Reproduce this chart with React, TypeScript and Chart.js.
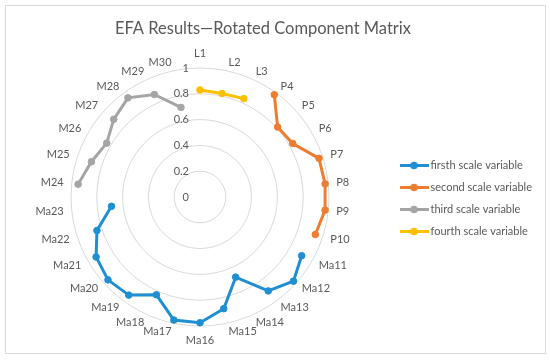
import React, { useEffect, useRef } from "react";
import { Chart, registerables } from "chart.js";

Chart.register(...registerables);

const titleText = "EFA Results\u2014Rotated Component Matrix";

const categories = [
  "L1", "L2", "L3", "P4", "P5", "P6", "P7", "P8", "P9", "P10",
  "Ma11", "Ma12", "Ma13", "Ma14", "Ma15", "Ma16", "Ma17", "Ma18", "Ma19", "Ma20",
  "Ma21", "Ma22", "Ma23", "M24", "M25", "M26", "M27", "M28", "M29", "M30",
];

// Ma11 .. Ma23
const firstScaleValues = [0.91, 0.975, 0.9, 0.68, 0.885, 0.975, 0.975, 0.83, 0.94, 0.96, 0.93, 0.84, 0.69];
// P4 .. P10
const secondScaleValues = [0.98, 0.81, 0.83, 0.97, 0.975, 0.975, 0.94];
// M24 .. M30
const thirdScaleValues = [0.95, 0.885, 0.835, 0.9, 0.95, 0.87, 0.71];
// L1 .. L3
const fourthScaleValues = [0.83, 0.82, 0.835];

const seriesNames = ["firsth scale variable", "second scale variable", "third scale variable", "fourth scale variable"];
const seriesFirstCategory = ["Ma11", "P4", "M24", "L1"];
const seriesValues = [firstScaleValues, secondScaleValues, thirdScaleValues, fourthScaleValues];
const seriesColors = ["#1f8fd2", "#ed7d31", "#a5a5a5", "#ffc000"];

const axisMin = 0;
const axisMax = 1;
const axisStep = 0.2;

const FONT = "Lato, 'Liberation Sans', sans-serif";
const TEXT = "#595959";

function fullSeries(values: number[], first: string): (number | null)[] {
  const arr: (number | null)[] = categories.map(() => null);
  const start = categories.indexOf(first);
  values.forEach((v, i) => {
    arr[start + i] = v;
  });
  return arr;
}

function makeLegendIcon(color: string): HTMLCanvasElement {
  const c = document.createElement("canvas");
  c.width = 29;
  c.height = 9;
  const g = c.getContext("2d")!;
  g.strokeStyle = color;
  g.lineWidth = 3;
  g.beginPath();
  g.moveTo(0, 4.5);
  g.lineTo(29, 4.5);
  g.stroke();
  g.fillStyle = color;
  g.beginPath();
  g.arc(14.5, 4.5, 3.8, 0, Math.PI * 2);
  g.fill();
  return c;
}

const tickLabelPlugin = {
  id: "tickLabelPlugin",
  beforeDatasetsDraw(chart: any) {
    const s = chart.scales.r;
    const ctx = chart.ctx;
    ctx.save();
    ctx.font = `11px ${FONT}`;
    ctx.fillStyle = TEXT;
    ctx.textAlign = "right";
    ctx.textBaseline = "middle";
    s.ticks.forEach((t: any) => {
      const y = s.yCenter - s.getDistanceFromCenterForValue(t.value);
      ctx.fillText(t.label, s.xCenter - 11, y);
    });
    ctx.restore();
  },
};

export default function App() {
  const canvasRef = useRef<HTMLCanvasElement | null>(null);

  useEffect(() => {
    if (!canvasRef.current) return;
    const icons = seriesColors.map((c) => makeLegendIcon(c));
    const chart = new Chart(canvasRef.current, {
      type: "radar",
      data: {
        labels: categories,
        datasets: seriesNames.map((name, i) => ({
          label: name,
          data: fullSeries(seriesValues[i], seriesFirstCategory[i]),
          borderColor: seriesColors[i],
          backgroundColor: seriesColors[i],
          pointBackgroundColor: seriesColors[i],
          pointBorderColor: seriesColors[i],
          pointRadius: 3.3,
          pointBorderWidth: 1,
          borderWidth: 3,
          fill: false,
          spanGaps: false,
          tension: 0,
        })),
      },
      options: {
        responsive: false,
        animation: false,
        events: [],
        layout: { padding: { left: -16, right: 8, top: 0, bottom: 0 } },
        plugins: {
          title: {
            display: true,
            text: titleText,
            color: TEXT,
            font: { family: FONT, size: 16.5, weight: "normal", lineHeight: 1.2 },
            padding: { top: 19, bottom: 1 },
          },
          legend: {
            display: true,
            position: "right",
            title: { display: true, text: "", padding: 0, font: { family: FONT, size: 30, lineHeight: 1.2 } },
            labels: {
              usePointStyle: true,
              pointStyleWidth: 22,
              padding: 11,
              color: TEXT,
              font: { family: FONT, size: 11 },
              generateLabels: (ch: any) =>
                Chart.defaults.plugins.legend.labels
                  .generateLabels(ch)
                  .map((item: any, i: number) => ({ ...item, pointStyle: icons[i] })),
            },
          },
          tooltip: { enabled: false },
        },
        scales: {
          r: {
            min: axisMin,
            max: axisMax,
            beforeFit: (s: any) => {
              s.xCenter = 200;
              s.yCenter = 197;
              s.drawingArea = 129;
            },
            ticks: {
              stepSize: axisStep,
              display: false,
              callback: (v: number) => `${Math.round(v * 10) / 10}`,
            },
            grid: { circular: true, color: "#d9d9d9", lineWidth: 1 },
            angleLines: { display: false },
            pointLabels: {
              color: TEXT,
              padding: 8,
              font: (ctx: any) => {
                const vertical = ctx.index === 0 || ctx.index * 2 === categories.length;
                return { family: FONT, size: 11, lineHeight: vertical ? 1.25 : 0.02 };
              },
            },
          },
        },
      },
      plugins: [tickLabelPlugin],
    } as any);
    return () => chart.destroy();
  }, []);

  return (
    <div style={{ position: "absolute", left: 0, top: 0, width: 550, height: 361, background: "#fff" }}>
      <canvas ref={canvasRef} width={550} height={361} style={{ position: "absolute", left: 0, top: 0 }} />
      <div
        style={{
          position: "absolute",
          left: 5,
          top: 5,
          width: 539,
          height: 347,
          border: "1px solid #d9d9d9",
          pointerEvents: "none",
        }}
      />
    </div>
  );
}
